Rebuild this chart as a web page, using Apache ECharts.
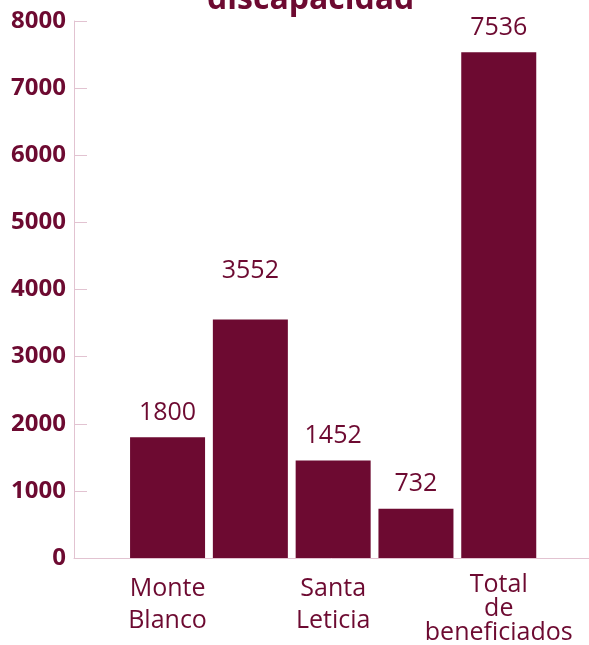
<!DOCTYPE html>
<html>
<head>
<meta charset="utf-8">
<script src="https://cdn.jsdelivr.net/npm/echarts@6/dist/echarts.min.js"></script>
<style>
    html, body { margin: 0; padding: 0; background: #fff; }
    #chart { width: 589px; height: 645px; }
</style>
</head>
<body>
<div id="chart"></div>
<script>
// 数据
var categories = ['Monte\nBlanco', '', 'Santa\nLeticia', '', 'Total\nde\nbeneficiados'];
var values = [1800, 3552, 1452, 732, 7536];
var yTicks = [0, 1000, 2000, 3000, 4000, 5000, 6000, 7000, 8000];

var wine = '#6d0a31';
var pink = '#e2c3d1';

var myChart = echarts.init(document.getElementById('chart'));

// bars sit at x = 1..5 on a value axis so the axis can start left of the first band
var barData = values.map(function (v, i) {
    var item = { value: [i + 1, v] };
    if (i === 1) {
        // this label sits higher in the original
        item.label = { distance: 36 };
    }
    return item;
});

var option = {
    title: {
        text: 'discapacidad',
        left: 202,
        top: -21,
        textStyle: {
            color: wine,
            fontFamily: 'Open Sans',
            fontWeight: 'bold',
            fontSize: 32,
            lineHeight: 32
        }
    },
    grid: {
        left: 74,
        right: 0,
        top: 21,
        bottom: 87,
        containLabel: false,
        outerBoundsMode: 'none'
    },
    xAxis: {
        type: 'value',
        min: -0.13,
        max: 6.09,
        minInterval: 1,
        maxInterval: 1,
        splitLine: { show: false },
        axisTick: { show: false },
        axisLine: { show: true, onZero: false, lineStyle: { color: pink, width: 1 } },
        axisLabel: {
            showMinLabel: false,
            showMaxLabel: false,
            margin: 15,
            color: wine,
            fontFamily: 'Open Sans',
            fontSize: 25,
            formatter: function (v) {
                if (v % 1 !== 0 || v < 1 || v > categories.length) return '';
                var lines = categories[v - 1].split('\n');
                // 两行标签行距较大，三行的较紧
                var key = lines.length > 2 ? 'tight' : 'loose';
                return lines.map(function (s) { return '{' + key + '|' + s + '}'; }).join('\n');
            },
            rich: {
                loose: { lineHeight: 32, fontSize: 25, fontFamily: 'Open Sans', color: wine },
                tight: { lineHeight: 24, fontSize: 25, fontFamily: 'Open Sans', color: wine }
            }
        }
    },
    yAxis: {
        type: 'value',
        min: yTicks[0],
        max: yTicks[yTicks.length - 1],
        interval: yTicks[1] - yTicks[0],
        splitLine: { show: false },
        axisLine: { show: true, onZero: false, lineStyle: { color: pink, width: 1 } },
        axisTick: { show: true, inside: true, length: 13, lineStyle: { color: pink } },
        axisLabel: {
            margin: 8,
            color: wine,
            fontFamily: 'Open Sans',
            fontWeight: 'bold',
            fontSize: 24,
            formatter: function (v) { return String(v); }
        }
    },
    series: [
        {
            type: 'bar',
            data: barData,
            barWidth: 75,
            itemStyle: { color: wine },
            label: {
                show: true,
                position: 'top',
                distance: 12,
                color: wine,
                fontFamily: 'Open Sans',
                fontSize: 25,
                formatter: function (p) { return p.value[1]; }
            }
        }
    ],
    animation: false
};

myChart.setOption(option);
</script>
</body>
</html>
